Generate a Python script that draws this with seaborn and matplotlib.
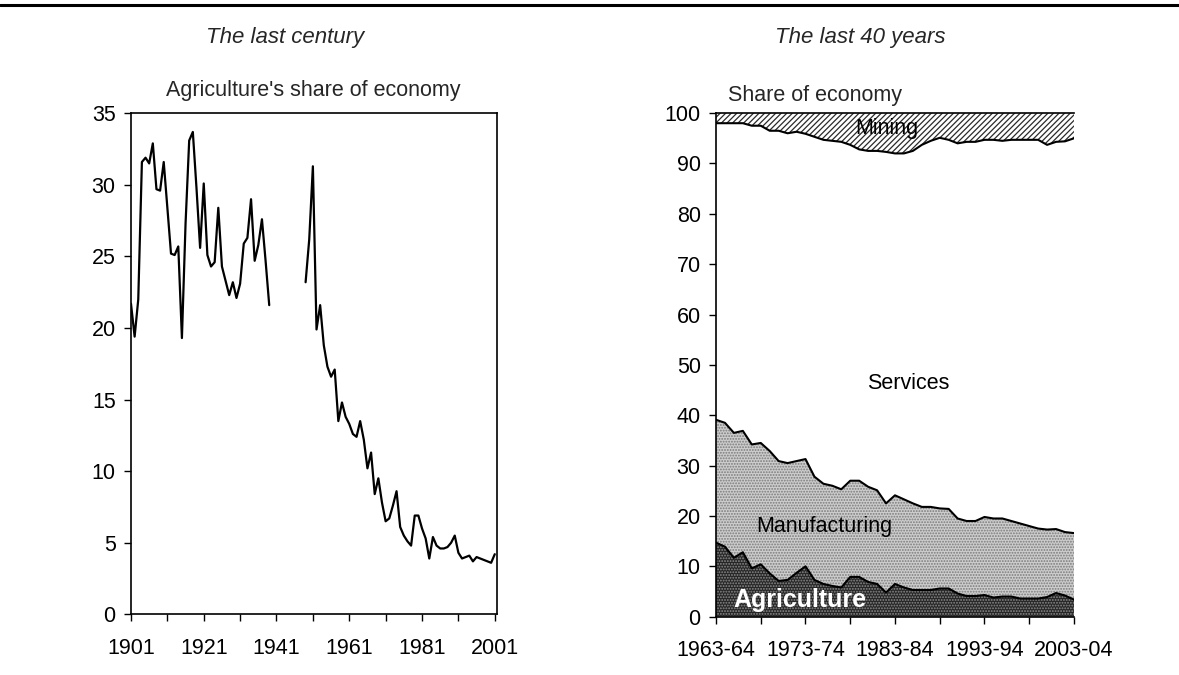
import numpy as np
import pandas as pd
import matplotlib
matplotlib.use("Agg")
import matplotlib.pyplot as plt
from matplotlib.lines import Line2D
import seaborn as sns

# ---------------- data: left panel (agriculture share, %) ----------------
years_a = list(range(1901, 1940))
agri_a = [21.7, 19.4, 22.0, 31.6, 31.9, 31.5, 32.9, 29.7, 29.6, 31.6,
          28.4, 25.2, 25.1, 25.7, 19.3, 27.3, 33.1, 33.7, 29.8, 25.6,
          30.1, 25.1, 24.3, 24.6, 28.4, 24.3, 23.3, 22.3, 23.2, 22.1,
          23.1, 25.9, 26.3, 29.0, 24.7, 25.8, 27.6, 24.7, 21.6]
years_b = list(range(1949, 2002))
agri_b = [23.2, 26.2, 31.3, 19.9, 21.6, 18.8, 17.3, 16.6, 17.1, 13.5,
          14.8, 13.8, 13.3, 12.6, 12.4, 13.5, 12.2, 10.2, 11.3, 8.4,
          9.5, 7.8, 6.5, 6.7, 7.6, 8.6, 6.1, 5.5, 5.1, 4.8,
          6.9, 6.9, 6.0, 5.3, 3.9, 5.4, 4.8, 4.6, 4.6, 4.7,
          5.0, 5.5, 4.3, 3.9, 4.0, 4.1, 3.7, 4.0, 3.9, 3.8,
          3.7, 3.6, 4.2]
left_xticks = list(range(1901, 2002, 10))
left_xlabels = ["1901", "", "1921", "", "1941", "", "1961", "", "1981", "", "2001"]
left_yticks = [0, 5, 10, 15, 20, 25, 30, 35]

# ---------------- data: right panel (shares of economy, %) ----------------
fy = [f"{y}-{str(y + 1)[-2:]}" for y in range(1963, 2004)]
agriculture = [14.7, 13.9, 11.7, 12.8, 9.6, 10.4, 8.6, 7.1, 7.3, 8.7,
               10.0, 7.3, 6.5, 6.1, 5.8, 7.9, 7.9, 6.9, 6.5, 4.8,
               6.5, 5.8, 5.3, 5.3, 5.3, 5.6, 5.6, 4.6, 4.1, 4.1,
               4.3, 3.8, 4.0, 4.0, 3.6, 3.6, 3.6, 3.9, 4.7, 4.2, 3.4]
manufacturing = [24.4, 24.6, 24.8, 24.1, 24.6, 24.1, 24.3, 23.8, 23.2, 22.2,
                 21.3, 20.5, 19.9, 19.9, 19.5, 19.1, 19.1, 18.9, 18.6, 17.7,
                 17.6, 17.5, 17.2, 16.5, 16.5, 15.9, 15.8, 14.9, 14.9, 14.9,
                 15.5, 15.7, 15.5, 15.0, 14.9, 14.4, 13.9, 13.4, 12.7, 12.6, 13.2]
services = [58.9, 59.5, 61.5, 61.1, 63.3, 63.0, 63.6, 65.6, 65.5, 65.4,
            64.6, 67.5, 68.3, 68.5, 69.0, 66.7, 65.8, 66.7, 67.4, 69.8,
            67.9, 68.7, 70.0, 71.9, 72.7, 73.6, 73.3, 74.5, 75.3, 75.3,
            74.9, 75.2, 75.0, 75.7, 76.2, 76.7, 77.2, 76.4, 76.9, 77.6, 78.4]
mining = [2.0, 2.0, 2.0, 2.0, 2.5, 2.5, 3.5, 3.5, 4.0, 3.7,
          4.1, 4.7, 5.3, 5.5, 5.7, 6.3, 7.2, 7.5, 7.5, 7.7,
          8.0, 8.0, 7.5, 6.3, 5.5, 4.9, 5.3, 6.0, 5.7, 5.7,
          5.3, 5.3, 5.5, 5.3, 5.3, 5.3, 5.3, 6.3, 5.7, 5.6, 5.0]
right_yticks = list(range(0, 101, 10))

# ---------------- style ----------------
sns.set_theme(style="ticks")
plt.rcParams["font.family"] = ["Liberation Sans", "DejaVu Sans"]
plt.rcParams["hatch.linewidth"] = 0.9
FS = 15.5

fig = plt.figure(figsize=(11.79, 6.75), dpi=100)
fig.patch.set_facecolor("white")

# ---------------- left panel ----------------
axL = fig.add_axes([0.1111, 0.0899, 0.3104, 0.7422])
dfL = pd.DataFrame({
    "year": years_a + years_b,
    "share": agri_a + agri_b,
    "seg": ["a"] * len(years_a) + ["b"] * len(years_b),
})
sns.lineplot(data=dfL, x="year", y="share", units="seg", estimator=None,
             color="black", linewidth=1.6, ax=axL, legend=False)
axL.set_xlim(1901, 2001.6)
axL.set_ylim(0, 35)
axL.set_xticks(left_xticks)
axL.set_xticklabels(left_xlabels)
axL.set_yticks(left_yticks)
axL.set_xlabel("")
axL.set_ylabel("")
for sp in axL.spines.values():
    sp.set_linewidth(1.2)
    sp.set_color("black")
    sp.set_visible(True)
axL.tick_params(axis="both", labelsize=FS, colors="black", direction="out",
                length=5, width=1.0)
axL.tick_params(axis="x", pad=12)
axL.tick_params(axis="y", pad=6)
axL.set_facecolor("white")
axL.grid(False)

# ---------------- right panel ----------------
axR = fig.add_axes([0.6073, 0.0864, 0.3036, 0.746])
x = np.arange(len(fy))
a = np.array(agriculture)
m = a + np.array(manufacturing)
s = m + np.array(services)
t = s + np.array(mining)

axR.fill_between(x, 0, a, facecolor="#262626", edgecolor="#8c8c8c",
                 hatch="......", linewidth=0)
axR.fill_between(x, a, m, facecolor="#cdcdcd", edgecolor="#7a7a7a",
                 hatch="......", linewidth=0)
axR.fill_between(x, m, s, facecolor="white", linewidth=0)
axR.fill_between(x, s, t, facecolor="white", edgecolor="#2a2a2a",
                 hatch="//////", linewidth=0)
for y in (a, m, s):
    axR.plot(x, y, color="black", linewidth=1.5)

axR.set_xlim(0, len(fy) - 1)
axR.set_ylim(0, 100)
axR.set_yticks(right_yticks)
axR.set_xticks(x[::5])
axR.set_xticklabels([lab if i % 10 == 0 else "" for i, lab in enumerate(fy) if i % 5 == 0])
axR.spines["right"].set_visible(False)
for k in ("left", "bottom", "top"):
    axR.spines[k].set_linewidth(1.2)
    axR.spines[k].set_color("black")
axR.tick_params(axis="both", labelsize=FS, colors="black", direction="out",
                length=5, width=1.0)
axR.tick_params(axis="x", pad=12)
axR.tick_params(axis="y", pad=6)
axR.grid(False)

axR.text(19.1, 97.0, "Mining", ha="center", va="center", fontsize=FS, color="black")
axR.text(21.5, 46.4, "Services", ha="center", va="center", fontsize=FS, color="black")
axR.text(12.1, 17.9, "Manufacturing", ha="center", va="center", fontsize=FS, color="black")
axR.text(9.4, 3.4, "Agriculture", ha="center", va="center", fontsize=18,
         color="white", fontweight="bold")

# ---------------- figure texts ----------------
fig.add_artist(Line2D([0, 1], [1 - 5 / 675, 1 - 5 / 675], color="black",
                      linewidth=2.2, transform=fig.transFigure))
fig.text(0.2417, 0.945, "The last century", ha="center", va="center",
         fontsize=16, style="italic")
fig.text(0.7294, 0.945, "The last 40 years", ha="center", va="center",
         fontsize=16, style="italic")
fig.text(0.2655, 0.866, "Agriculture's share of economy", ha="center",
         va="center", fontsize=FS)
fig.text(0.6175, 0.859, "Share of economy", ha="left", va="center", fontsize=FS)

fig.savefig("out.png", dpi=100, facecolor="white")
